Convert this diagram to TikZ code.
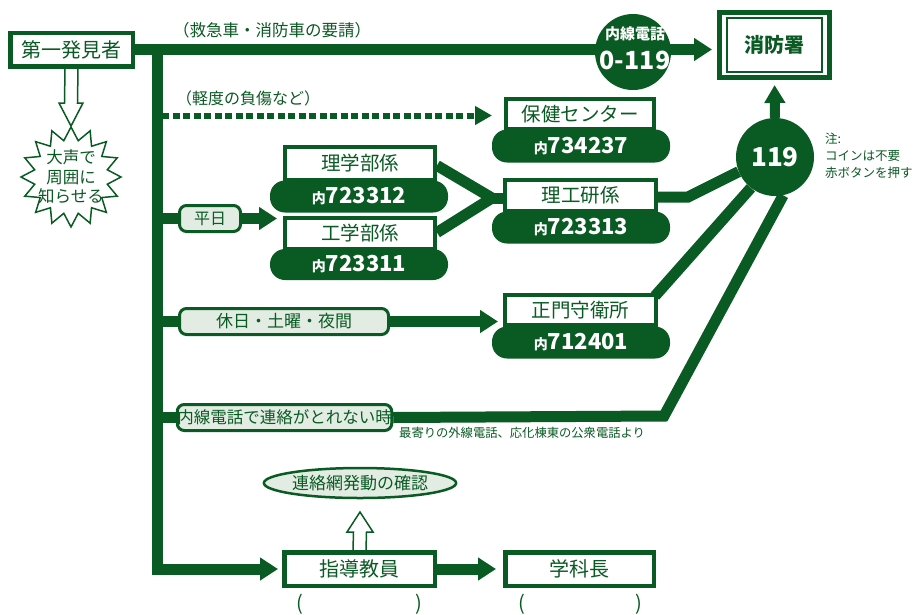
\documentclass[tikz,border=0pt]{standalone}
\usepackage{fontspec}
\setmainfont{Noto Sans CJK JP}
\usetikzlibrary{arrows.meta,shapes.geometric,calc}
\definecolor{dg}{HTML}{0A5A23}
\definecolor{lg}{HTML}{E2ECE3}
\newcommand\fs[1]{\fontsize{#1}{#1}\selectfont}
\pgfdeclarelayer{background}
\pgfsetlayers{background,main}
\begin{document}
\begin{tikzpicture}[x=1pt,y=-1pt,
  box/.style={draw=dg, line width=4pt, fill=white, text=dg, inner sep=0pt, font=\fs{19.5}},
  numpill/.style={fill=dg, text=white, rounded corners=15pt, inner sep=0pt, minimum width=178pt, minimum height=32pt, font=\bfseries\fs{22}},
  lpill/.style={draw=dg, line width=3pt, fill=lg, text=dg, rounded corners=7pt, inner sep=0pt, minimum height=26pt, font=\fs{16.5}},
  conn/.style={draw=dg, line width=11pt},
  tip/.style={-{Triangle[width=22pt,length=18pt]}},
  dotc/.style={draw=dg, line width=6pt, dash pattern=on 7pt off 3.5pt},
  dtip/.style={-{Triangle[width=18pt,length=17pt]}},
  upc/.style={draw=dg, line width=10pt},
  utip/.style={-{Triangle[width=20pt,length=18pt]}},
  hollowarr/.style={draw=dg, line width=1.5pt, fill=white, line join=miter},
  greentext/.style={text=dg, inner sep=0pt},
  circ/.style={circle, fill=dg, inner sep=0pt, text=white}
]
\useasboundingbox (0,0) rectangle (917,614);
\begin{pgfonlayer}{background}
\fill[white] (0,0) rectangle (917,614);
\end{pgfonlayer}

% ---- nodes ----
\node[box, line width=4.5pt, minimum width=122.5pt, minimum height=33.5pt, font=\fs{20}] (first) at (71.5,49.5) {第一発見者};
\node[box, line width=5pt, minimum width=110pt, minimum height=65pt, font=\bfseries\fs{20}] (fire) at (774.5,45) {消防署};
\draw[dg, line width=2pt] ($(fire.north west)+(10,8)$) rectangle ($(fire.south east)+(-10,-8)$);

\node[greentext, font=\fs{16.5}] at (272,30) {（救急車・消防車の要請）};
\node[greentext, font=\fs{16}, anchor=west] at (176,98) {（軽度の負傷など）};

% hoken
\node[box, minimum width=148pt, minimum height=30pt] (hoken) at (580,114) {保健センター};
\node[numpill, minimum height=33pt] (hokenN) at (581,146) {{\fs{14}内}734237};
% rigaku
\node[box, minimum width=150pt, minimum height=33pt] (rigaku) at (360,163.5) {理学部係};
\node[numpill] (rigakuN) at (359,196.5) {{\fs{14}内}723312};
% kogaku
\node[box, minimum width=150pt, minimum height=31pt] (kogaku) at (360,233.5) {工学部係};
\node[numpill, minimum height=31pt] (kogakuN) at (359,264.5) {{\fs{14}内}723311};
% riko
\node[box, minimum width=151pt, minimum height=31pt] (riko) at (580.5,195.5) {理工研係};
\node[numpill] (rikoN) at (581,227.5) {{\fs{14}内}723313};
% seimon
\node[box, minimum width=151pt, minimum height=30pt] (seimon) at (580.5,310) {正門守衛所};
\node[numpill] (seimonN) at (581,342.5) {{\fs{14}内}712401};

% light pills
\node[lpill, minimum width=61pt, font=\fs{16}] (heijitsu) at (210,218.5) {平日};
\node[lpill, minimum width=209pt, font=\fs{17}] (kyujitsu) at (284,321.5) {休日・土曜・夜間};
\node[lpill, minimum width=210pt] (naisen) at (284.5,417.5) {内線電話で連絡がとれない時};
\node[greentext, font=\fs{12.3}, anchor=west] (mote) at (399,433) {最寄りの外線電話、応化棟東の公衆電話より};

% circles
\node[circ, minimum size=76pt] (c0119) at (633,52) {};
\node[text=white, inner sep=0pt, font=\bfseries\fs{15}] (c0119a) at (635,34) {内線電話};
\node[text=white, inner sep=0pt, font=\bfseries\fs{25}] (c0119b) at (635,60) {0-119};
\node[circ, minimum size=78pt, font=\bfseries\fs{26}] (c119) at (775,157) {119};
\node[greentext, font=\fontsize{12.5}{17}\selectfont, align=left, anchor=north west] (note) at (825,133) {注:\\コインは不要\\赤ボタンを押す};

% bottom
\node[ellipse, draw=dg, line width=2.5pt, fill=lg, text=dg, inner sep=0pt, minimum width=177pt, minimum height=30pt, font=\fs{17}] (renraku) at (360,483) {連絡網発動の確認};
\node[box, line width=4.5pt, minimum width=150.5pt, minimum height=33.5pt, font=\fs{20}] (shidou) at (359.5,569) {指導教員};
\node[box, line width=4.5pt, minimum width=148.5pt, minimum height=33.5pt, font=\fs{20}] (gakka) at (579.5,569) {学科長};
\node[greentext, font=\fs{20}] (p1) at (300,604) {(};
\node[greentext, font=\fs{20}] (p2) at (419,604) {)};
\node[greentext, font=\fs{20}] (p3) at (522,604) {(};
\node[greentext, font=\fs{20}] (p4) at (639,604) {)};

% starburst
\node[greentext, align=center, font=\fontsize{16.5}{19.5}\selectfont] (shout) at (71,177) {大声で\\周囲に\\知らせる};
\coordinate (starTop) at (71,126);
\coordinate (ellTip) at (360,512);

% ---- connectors ----
\coordinate (trunkTop) at (157,50);
\coordinate (trunkBot) at (157,569);
\coordinate (grp) at (277,218.5);
\coordinate (merge) at (492,198);
\coordinate (bend1) at (688,197);
\coordinate (bend2) at (664,416);
\begin{pgfonlayer}{background}
\draw[conn, tip, shorten >=5pt] (first.east) -- (first.east -| fire.west);
\draw[conn, tip, shorten >=4pt] (trunkTop) -- (trunkBot) -- (shidou.west);
\draw[dotc, dtip, shorten >=12pt] ($(hoken.west -| trunkTop)+(5,1.5)$) -- ($(hoken.west)+(0,1.5)$);
\draw[conn] (heijitsu.west -| trunkTop) -- (heijitsu.west);
\draw[conn, tip] (heijitsu.east) -- (grp);
\draw[conn] ($(rigaku.east)+(0,2)$) -- (merge) -- ($(kogaku.east)+(0,-1)$);
\draw[conn] (merge) -- ($(riko.west)+(0,2.5)$);
\draw[conn] ($(riko.east)+(0,1.5)$) -- (bend1) -- (c119.-158);
\draw[conn] ($(seimon.north east)+(-3,3)$) -- (c119.-128);
\draw[conn] (kyujitsu.west -| trunkTop) -- (kyujitsu.west);
\draw[conn, tip, shorten >=5pt] (kyujitsu.east) -- (kyujitsu.east -| seimon.west);
\draw[conn] (naisen.west -| trunkTop) -- (naisen.west);
\draw[conn] (naisen.east) -- (bend2) -- (c119.-78);
\draw[upc, utip, shorten >=5pt] (c119.north) -- (fire.south);
\draw[conn, tip, shorten >=7pt] (shidou.east) -- (gakka.west);
% hollow arrows
\draw[hollowarr] ($(first.south)+(-6.5,0)$) -- ($(starTop)+(-6.5,-23)$) -- ($(starTop)+(-12,-23)$) -- (starTop) -- ($(starTop)+(12,-23)$) -- ($(starTop)+(6.5,-23)$) -- ($(first.south)+(6.5,0)$);
\draw[hollowarr] ($(shidou.north)+(-6.5,0)$) -- ($(ellTip)+(-6.5,20)$) -- ($(ellTip)+(-13,20)$) -- (ellTip) -- ($(ellTip)+(13,20)$) -- ($(ellTip)+(6.5,20)$) -- ($(shidou.north)+(6.5,0)$);
% star outline
\draw[draw=dg, line width=1.5pt, fill=white, shift={(shout.center)}]
  (90:50) \foreach \i in {1,...,31}{ -- ({90+\i*11.25}:{ifthenelse(isodd(\i),37,50)}) } -- cycle;
\end{pgfonlayer}
\end{tikzpicture}
\end{document}
